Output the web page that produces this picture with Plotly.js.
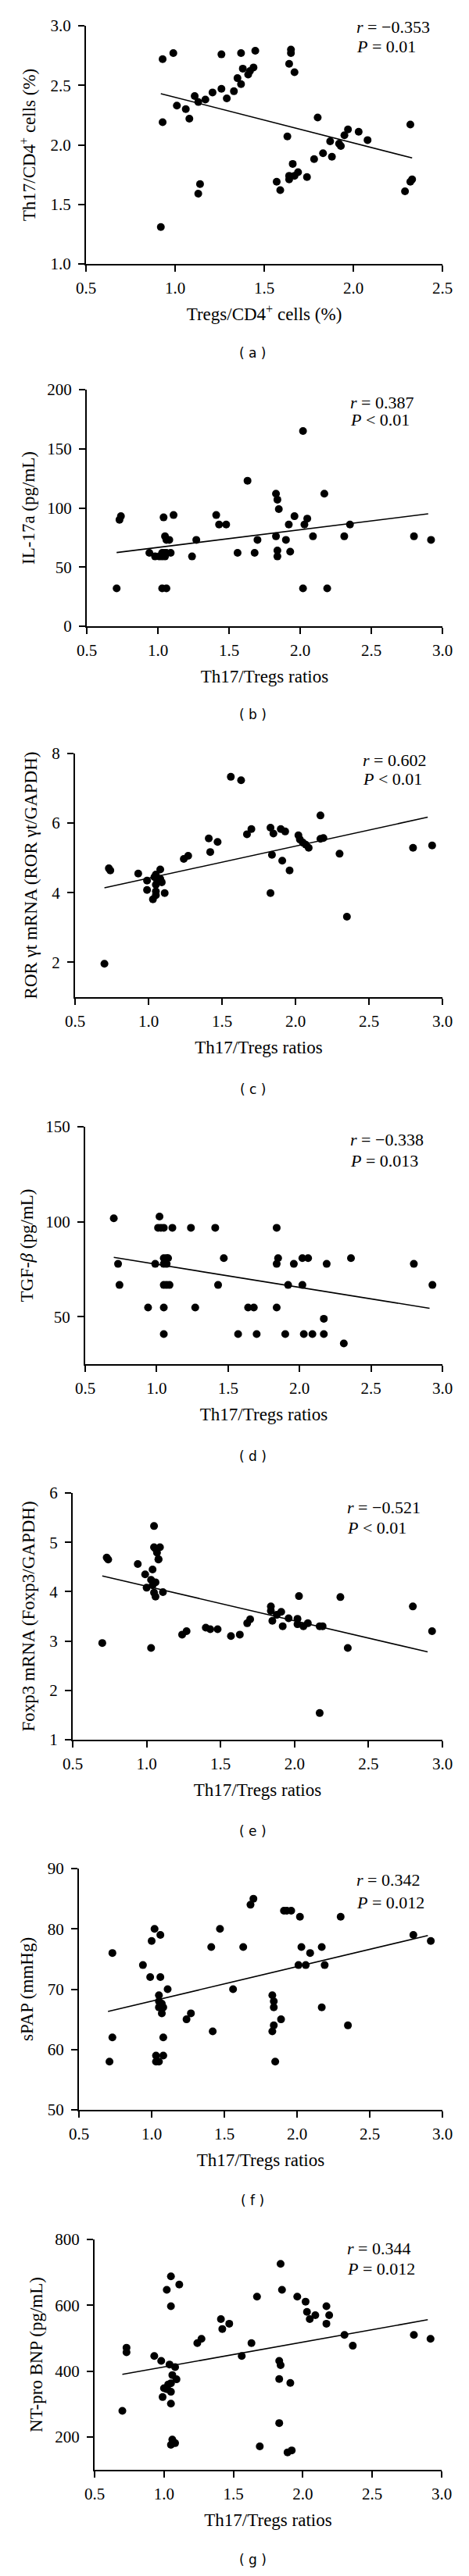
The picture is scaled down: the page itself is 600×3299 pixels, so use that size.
<!DOCTYPE html>
<html>
<head>
<meta charset="utf-8">
<script src="https://cdn.plot.ly/plotly-3.0.1.min.js"></script>
<style>html,body{margin:0;padding:0;background:#fff}</style>
</head>
<body>
<div id="chart" style="width:600px;height:3299px"></div>
<script>
// ---------- Data ----------
// (a) Tregs/CD4+ (%) vs Th17/CD4+ (%)
const xA = [0.93,0.99,0.93,0.92,1.01,1.06,1.08,1.11,1.13,1.17,1.21,1.26,1.26,1.29,1.33,1.35,1.37,1.37,1.38,1.41,1.42,1.44,1.45,1.13,1.14,1.64,1.65,1.65,1.67,1.63,1.57,1.59,1.64,1.64,1.66,1.67,1.69,1.74,1.78,1.80,1.83,1.87,1.88,1.92,1.93,1.95,1.97,2.03,2.08,2.32,2.29,2.32,2.33];
const yA = [2.72,2.77,2.19,1.31,2.33,2.30,2.22,2.41,2.36,2.38,2.44,2.47,2.76,2.39,2.45,2.56,2.51,2.77,2.64,2.59,2.62,2.65,2.79,1.59,1.67,2.68,2.80,2.77,2.61,2.07,1.69,1.62,1.71,1.74,1.84,1.74,1.77,1.73,1.88,2.23,1.93,2.03,1.90,2.01,1.99,2.08,2.13,2.11,2.04,2.17,1.61,1.69,1.71];
const fitXA = [0.92, 2.33];
const fitYA = [2.43, 1.89];

// (b) Th17/Tregs ratio vs IL-17a (pg/mL)
const xB = [0.71,0.73,0.74,0.94,0.98,1.01,1.03,1.04,1.05,1.05,1.06,1.06,1.08,1.09,1.11,1.03,1.06,1.24,1.27,1.41,1.43,1.48,1.56,1.63,1.68,1.70,1.83,1.84,1.85,1.83,1.84,1.84,1.90,1.92,1.93,1.96,2.02,2.02,2.03,2.05,2.09,2.17,2.19,2.31,2.35,2.80,2.92,1.03,1.045];
const yB = [32,90,93,62,59,59,62,92,76,59,73,62,73,62,94,32,32,59,73,94,86,86,62,123,62,73,112,107,99,76,64,59,73,86,63,93,165,32,86,91,76,112,32,76,86,76,73,59,62];
const fitXB = [0.71, 2.90];
const fitYB = [62.3, 95];

// (c) Th17/Tregs ratio vs ROR γt mRNA
const xC = [0.70,0.73,0.74,0.93,0.99,0.99,1.03,1.04,1.05,1.05,1.06,1.08,1.08,1.09,1.11,1.05,1.24,1.27,1.41,1.42,1.47,1.56,1.63,1.67,1.70,1.83,1.85,1.84,1.83,1.90,1.93,1.91,1.96,2.02,2.03,2.05,2.07,2.09,2.17,2.17,2.19,2.30,2.35,2.80,2.93,1.05];
const yC = [1.96,4.70,4.64,4.55,4.35,4.08,3.81,4.45,4.23,3.93,4.34,4.67,4.40,4.30,3.99,4.04,4.97,5.06,5.56,5.17,5.46,7.33,7.23,5.68,5.83,5.87,5.70,5.09,3.99,5.83,5.76,4.92,4.64,5.65,5.53,5.44,5.38,5.29,6.22,5.55,5.57,5.12,3.31,5.29,5.36,4.52];
const fitXC = [0.70, 2.90];
const fitYC = [4.14, 6.17];

// (d) Th17/Tregs ratio vs TGF-β (pg/mL)
const xD = [0.70,0.73,0.74,0.94,0.99,1.02,1.01,1.03,1.05,1.05,1.07,1.08,1.05,1.07,1.05,1.07,1.09,1.05,1.05,1.11,1.24,1.27,1.41,1.43,1.47,1.57,1.64,1.68,1.70,1.84,1.84,1.85,1.84,1.90,1.92,1.96,2.02,2.02,2.03,2.06,2.09,2.17,2.17,2.19,2.31,2.36,2.80,2.93];
const yD = [101.8,77.8,66.7,54.8,77.8,102.7,96.8,96.8,96.8,80.8,80.8,80.8,77.8,77.8,66.7,66.7,66.7,54.8,40.8,96.8,96.8,54.8,96.8,66.7,80.8,40.8,54.8,54.8,40.8,96.8,77.8,80.8,54.8,40.8,66.7,77.8,80.8,66.7,40.8,80.8,40.8,48.9,40.8,77.8,35.9,80.8,77.8,66.7];
const fitXD = [0.70, 2.91];
const fitYD = [81.2, 54.4];

// (e) Th17/Tregs ratio vs Foxp3 mRNA
const xE = [0.70,0.73,0.74,0.94,0.99,1.00,1.03,1.04,1.03,1.04,1.05,1.05,1.05,1.06,1.06,1.06,1.07,1.08,1.09,1.11,1.08,1.24,1.27,1.40,1.43,1.48,1.57,1.63,1.68,1.70,1.84,1.84,1.85,1.88,1.91,1.92,1.96,2.02,2.02,2.03,2.06,2.09,2.17,2.19,2.17,2.31,2.36,2.80,2.93];
const yE = [2.96,4.69,4.65,4.56,4.35,4.08,2.86,4.45,4.24,4.13,5.33,4.90,3.98,3.90,4.19,4.87,4.79,4.66,4.90,3.99,4.65,3.13,3.20,3.27,3.24,3.24,3.10,3.13,3.36,3.44,3.70,3.61,3.41,3.53,3.59,3.30,3.46,3.45,3.34,3.91,3.30,3.36,3.30,3.30,1.54,3.89,2.86,3.70,3.20];
const fitXE = [0.70, 2.90];
const fitYE = [4.32, 2.78];

// (f) Th17/Tregs ratio vs sPAP (mmHg)
const xF = [0.71,0.73,0.73,0.94,0.99,1.00,1.02,1.03,1.03,1.05,1.06,1.06,1.05,1.05,1.05,1.07,1.07,1.08,1.08,1.08,1.11,1.24,1.27,1.41,1.42,1.47,1.56,1.63,1.68,1.70,1.83,1.84,1.84,1.83,1.84,1.85,1.89,1.91,1.93,1.96,2.02,2.01,2.03,2.06,2.09,2.17,2.17,2.19,2.30,2.35,2.80,2.92];
const yF = [58,76,62,74,72,78,80,59,58,58,79,72,69,68,67,66,67.6,67,62,59,70,65,66,77,63,80,70,77,84,85,69,68,67,63,64,58,65,83,83,83,82,74,77,74,76,77,67,74,82,64,79,78];
const fitXF = [0.70, 2.90];
const fitYF = [66.3, 78.9];

// (g) Th17/Tregs ratio vs NT-pro BNP (pg/mL)
const xG = [0.70,0.73,0.73,0.93,0.98,0.99,1.02,1.00,1.02,1.03,1.04,1.05,1.05,1.05,1.05,1.05,1.06,1.06,1.05,1.08,1.08,1.09,1.11,1.24,1.27,1.41,1.42,1.47,1.56,1.63,1.67,1.69,1.84,1.85,1.83,1.84,1.83,1.83,1.89,1.92,1.91,1.96,2.02,2.03,2.05,2.09,2.17,2.17,2.19,2.30,2.36,2.80,2.92];
const yG = [279,471,457,446,431,321,647,348,345,359,420,688,597,363,337,301,388,192,176,181,412,375,663,485,498,558,528,544,446,485,626,171,726,647,431,418,376,242,153,159,364,626,611,580,558,570,597,544,570,510,477,510,498];
const fitXG = [0.70, 2.90];
const fitYG = [390, 556];

// Titles and statistics
const yTitles = ['Th17/CD4<sup>+</sup> cells (%)','IL-17a (pg/mL)','ROR γt mRNA (ROR γt/GAPDH)','TGF-<i>β</i> (pg/mL)','Foxp3 mRNA (Foxp3/GAPDH)','sPAP (mmHg)','NT-pro BNP (pg/mL)'];
const xTitles = ['Tregs/CD4<sup>+</sup> cells (%)','Th17/Tregs ratios','Th17/Tregs ratios','Th17/Tregs ratios','Th17/Tregs ratios','Th17/Tregs ratios','Th17/Tregs ratios'];
const rTexts = ['<i>r</i> = −0.353','<i>r</i> = 0.387','<i>r</i> = 0.602','<i>r</i> = −0.338','<i>r</i> = −0.521','<i>r</i> = 0.342','<i>r</i> = 0.344'];
const pTexts = ['<i>P</i> = 0.01','<i>P</i> &lt; 0.01','<i>P</i> &lt; 0.01','<i>P</i> = 0.013','<i>P</i> &lt; 0.01','<i>P</i> = 0.012','<i>P</i> = 0.012'];
const panelLabels = ['( a )','( b )','( c )','( d )','( e )','( f )','( g )'];
const yTickVals = [[1.0,1.5,2.0,2.5,3.0],[0,50,100,150,200],[2,4,6,8],[50,100,150],[1,2,3,4,5,6],[50,60,70,80,90],[200,400,600,800]];
const xTickVals = [[0.5,1.0,1.5,2.0,2.5],[0.5,1.0,1.5,2.0,2.5,3.0],[0.5,1.0,1.5,2.0,2.5,3.0],[0.5,1.0,1.5,2.0,2.5,3.0],[0.5,1.0,1.5,2.0,2.5,3.0],[0.5,1.0,1.5,2.0,2.5,3.0],[0.5,1.0,1.5,2.0,2.5,3.0]];

// ---------- Layout geometry (pixels) ----------
const W = 600, H = 3299;
const geo = [
  {x0:110, x1:566, yt:33,   yb:338,   xr:[0.5,2.5], yr:[1.0,3.0], yfmt:'.1f', rx:454, ry1:35,   ry2:60,   ly:452,  ys:12},
  {x0:111, x1:566, yt:499,  yb:802,   xr:[0.5,3.0], yr:[0,200],   yfmt:'',    rx:446, ry1:515,  ry2:537,  ly:915,  ys:9},
  {x0:96,  x1:566, yt:965,  yb:1277,  xr:[0.5,3.0], yr:[1,8],     yfmt:'',    rx:462, ry1:973,  ry2:997,  ly:1395, ys:12},
  {x0:109, x1:566, yt:1443, yb:1747,  xr:[0.5,3.0], yr:[25,150],  yfmt:'',    rx:446, ry1:1459, ry2:1486, ly:1865, ys:9},
  {x0:93,  x1:566, yt:1912, yb:2228,  xr:[0.5,3.0], yr:[1,6],     yfmt:'',    rx:442, ry1:1930, ry2:1956, ly:2345, ys:12},
  {x0:101, x1:566, yt:2393, yb:2702,  xr:[0.5,3.0], yr:[50,90],   yfmt:'',    rx:454, ry1:2407, ry2:2436, ly:2818, ys:12},
  {x0:121, x1:565, yt:2868, yb:3163,  xr:[0.5,3.0], yr:[100,800], yfmt:'',    rx:442, ry1:2879, ry2:2905, ly:3278, ys:9}
];

const xs = [xA,xB,xC,xD,xE,xF,xG];
const ys = [yA,yB,yC,yD,yE,yF,yG];
const fxs = [fitXA,fitXB,fitXC,fitXD,fitXE,fitXF,fitXG];
const fys = [fitYA,fitYB,fitYC,fitYD,fitYE,fitYF,fitYG];

const serif = 'Liberation Serif, Times New Roman, serif';
const traces = [];
const layout = {
  width: W, height: H,
  margin: {l:0, r:0, t:0, b:0},
  paper_bgcolor: '#fff', plot_bgcolor: '#fff',
  showlegend: false,
  font: {family: serif, color: '#000', size: 21},
  annotations: []
};

for (let i = 0; i < 7; i++) {
  const n = i === 0 ? '' : String(i + 1);
  const g = geo[i];
  traces.push({
    type: 'scatter', mode: 'markers', x: xs[i], y: ys[i],
    xaxis: 'x' + n, yaxis: 'y' + n,
    marker: {color: '#000', size: 10}, cliponaxis: false, hoverinfo: 'x+y'
  });
  traces.push({
    type: 'scatter', mode: 'lines', x: fxs[i], y: fys[i],
    xaxis: 'x' + n, yaxis: 'y' + n,
    line: {color: '#000', width: 1.6}, hoverinfo: 'skip'
  });
  const common = {
    showline: true, linecolor: '#000', linewidth: 2,
    ticks: 'outside', ticklen: 8, tickwidth: 2, tickcolor: '#000',
    showgrid: false, zeroline: false, fixedrange: true,
    tickfont: {family: serif, size: 21, color: '#000'}
  };
  layout['xaxis' + n] = Object.assign({}, common, {
    domain: [g.x0 / W, g.x1 / W], range: g.xr, anchor: 'y' + n,
    tickvals: xTickVals[i], tickformat: '.1f', ticklabelstandoff: 3,
    title: {text: xTitles[i], font: {family: serif, size: 23, color: '#000'}, standoff: 14}
  });
  layout['yaxis' + n] = Object.assign({}, common, {
    domain: [1 - g.yb / H, 1 - g.yt / H], range: g.yr, anchor: 'x' + n,
    tickvals: yTickVals[i], tickformat: g.yfmt, ticklabelstandoff: 5,
    title: {text: yTitles[i], font: {family: serif, size: 23, color: '#000'}, standoff: g.ys}
  });
  layout.annotations.push({
    xref: 'paper', yref: 'paper', x: g.rx / W, y: 1 - g.ry1 / H,
    xanchor: 'left', yanchor: 'middle', showarrow: false, align: 'left',
    text: rTexts[i], font: {family: serif, size: 22, color: '#000'}
  });
  layout.annotations.push({
    xref: 'paper', yref: 'paper', x: g.rx / W, y: 1 - g.ry2 / H,
    xanchor: 'left', yanchor: 'middle', showarrow: false, align: 'left',
    text: pTexts[i], font: {family: serif, size: 22, color: '#000'}
  });
  layout.annotations.push({
    xref: 'paper', yref: 'paper', x: 323 / W, y: 1 - g.ly / H,
    xanchor: 'center', yanchor: 'middle', showarrow: false,
    text: panelLabels[i], font: {family: 'DejaVu Sans, Verdana, sans-serif', size: 17, color: '#000'}
  });
}

Plotly.newPlot('chart', traces, layout, {displayModeBar: false, staticPlot: true});
</script>
</body>
</html>
